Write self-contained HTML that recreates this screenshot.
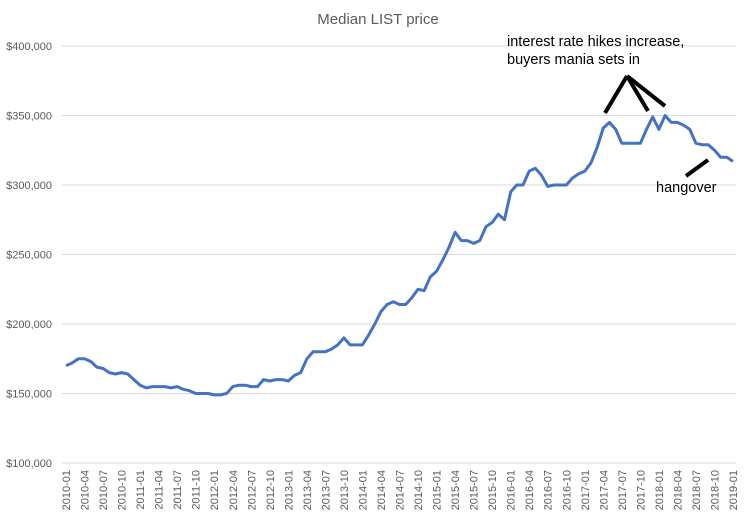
<!DOCTYPE html>
<html><head><meta charset="utf-8"><style>
html,body{margin:0;padding:0;background:#fff;width:746px;height:516px;overflow:hidden}
svg text{font-family:"Liberation Sans",Arial,sans-serif}
</style></head><body>
<svg id="chart" width="746" height="516" xmlns="http://www.w3.org/2000/svg">
<text x="378" y="24" text-anchor="middle" font-size="15" fill="#595959">Median LIST price</text>
<g id="grid"></g>
<g id="yticks"></g>
<g id="xticks"></g>
<polyline id="line" fill="none" stroke="#4472c4" stroke-width="3" stroke-linejoin="round"/>
<g>
<text x="507" y="46" font-size="14.5" fill="#000">interest rate hikes increase,</text>
<text x="507" y="64" font-size="14.5" fill="#000">buyers mania sets in</text>
<line x1="627" y1="76" x2="605" y2="113" stroke="#000" stroke-width="4"/>
<line x1="627" y1="76" x2="648" y2="111" stroke="#000" stroke-width="4"/>
<line x1="627" y1="76" x2="665" y2="106" stroke="#000" stroke-width="4"/>
</g>
<g>
<line x1="686" y1="176" x2="708" y2="160" stroke="#000" stroke-width="4"/>
<text x="656" y="192" font-size="14.5" fill="#000">hangover</text>
</g>
</svg>
<script>
const yTicks=[100000,150000,200000,250000,300000,350000,400000];
const startYear=2010;
const values=[
170,172,175,175,173,169,168,165,164,165,164,160,
156,154,155,155,155,154,155,153,152,150,150,150,
149,149,150,155,156,156,155,155,160,159,160,160,
159,163,165,175,180,180,180,182,185,190,185,185,
185,192,200,209,214,216,214,214,219,225,224,234,
238,246,255,266,260,260,258,260,270,273,279,275,
295,300,300,310,312,307,299,300,300,300,305,308,
310,316,327,341,345,340,330,330,330,330,340,349,
340,350,345,345,343,340,330,329,329,325,320,320,
317];
const NS="http://www.w3.org/2000/svg";
const svg=document.getElementById('chart');
const x0=66,x1=733,yTop=46,yBot=463,vMin=100000,vMax=400000;
const n=values.length;
function xs(i){return x0+(x1-x0)*i/(n-1);}
function ys(v){return yBot-(v-vMin)/(vMax-vMin)*(yBot-yTop);}
const grid=document.getElementById('grid'),yt=document.getElementById('yticks'),xt=document.getElementById('xticks');
yTicks.forEach(t=>{
 const l=document.createElementNS(NS,'line');
 
 
 l.setAttribute('x1',62);l.setAttribute('x2',736);
 l.setAttribute('y1',ys(t));l.setAttribute('y2',ys(t));
 l.setAttribute('stroke','#d9d9d9');l.setAttribute('stroke-width','1');
 grid.appendChild(l);
 const tx=document.createElementNS(NS,'text');
 
 
 tx.setAttribute('x',52);tx.setAttribute('y',ys(t)+4);
 tx.setAttribute('text-anchor','end');tx.setAttribute('font-size','11');tx.setAttribute('fill','#595959');
 tx.textContent='$'+t.toLocaleString('en-US');
 yt.appendChild(tx);
});
for(let i=0;i<n;i+=3){
 const y=startYear+Math.floor(i/12),m=(i%12)+1;
 const tx=document.createElementNS(NS,'text');
 
 
 const x=xs(i)+4;
 tx.setAttribute('transform','translate('+x+',470) rotate(-90)');
 tx.setAttribute('text-anchor','end');tx.setAttribute('font-size','11');tx.setAttribute('fill','#595959');
 tx.textContent=y+'-'+String(m).padStart(2,'0');
 xt.appendChild(tx);
}
document.getElementById('line').setAttribute('points',values.map((v,i)=>xs(i).toFixed(1)+','+ys(v*1000).toFixed(1)).join(' '));
</script>
</body></html>
